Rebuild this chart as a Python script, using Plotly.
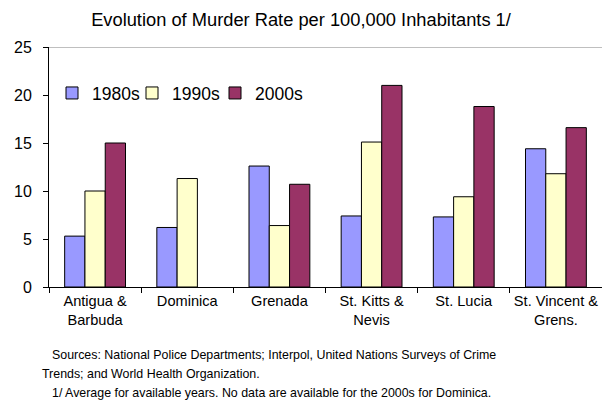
import plotly.graph_objects as go

countries = ["Antigua &<br>Barbuda", "Dominica", "Grenada", "St. Kitts &<br>Nevis", "St. Lucia", "St. Vincent &<br>Grens."]
rate_1980s = [5.3, 6.2, 12.6, 7.4, 7.3, 14.4]
rate_1990s = [10.0, 11.3, 6.4, 15.1, 9.4, 11.8]
rate_2000s = [15.0, None, 10.7, 21.0, 18.8, 16.6]

series = [("1980s", rate_1980s, "#9999FF"),
          ("1990s", rate_1990s, "#FFFFCC"),
          ("2000s", rate_2000s, "#993366")]

font = "Liberation Sans, Arial, sans-serif"
legend_names = ["legend", "legend2", "legend3"]
legend_x = [52, 132, 215]  # pixel position of each legend entry

fig = go.Figure()
for (name, vals, col), lg in zip(series, legend_names):
    fig.add_trace(go.Bar(x=countries, y=vals, name=name, legend=lg,
                         marker=dict(color=col, line=dict(color="black", width=1))))

fig.update_layout(
    width=602, height=402,
    margin=dict(l=49, r=0, t=47, b=115),
    plot_bgcolor="white", paper_bgcolor="white",
    font=dict(family=font, color="black"),
    barmode="group", bargap=0.34, bargroupgap=0,
    title=dict(text="Evolution of Murder Rate per 100,000 Inhabitants 1/",
               x=0.5, xanchor="center", y=1 - 20 / 402, yanchor="middle",
               font=dict(size=18.3, family=font, color="black")),
    showlegend=True,
)
for lg, xp in zip(legend_names, legend_x):
    fig.update_layout({lg: dict(orientation="h", x=(xp - 49) / 553, xanchor="left",
                                y=0.808, yanchor="middle", font=dict(size=17.5),
                                bgcolor="rgba(0,0,0,0)", itemwidth=30)})

fig.update_yaxes(range=[0, 25], dtick=5, showgrid=False, zeroline=False,
                 showline=True, linecolor="black", linewidth=1,
                 ticks="outside", ticklen=5, tickcolor="black",
                 ticklabelstandoff=8, tickfont=dict(size=16))
fig.update_xaxes(showgrid=False, showline=True, linecolor="black", linewidth=1,
                 ticks="outside", ticklen=5, tickcolor="black", tickson="boundaries",
                 tickfont=dict(size=14.6), tickangle=0)

# gray top border line
fig.add_shape(type="line", xref="paper", yref="y", x0=0, x1=1, y0=25, y1=25,
              line=dict(color="#808080", width=1))

notes = [
    ("Sources: National Police Departments; Interpol, United Nations Surveys of Crime", 50, 355),
    ("Trends; and World Health Organization.", 40, 374),
    ("1/ Average for available years. No data are available for the 2000s for Dominica.", 50, 393),
]
for txt, xp, yp in notes:
    fig.add_annotation(text=txt, xref="paper", yref="paper",
                       x=(xp - 49) / 553, y=0, xanchor="left", yanchor="middle",
                       yshift=-(yp - 287), showarrow=False,
                       font=dict(size=12.4, family=font, color="black"))

fig.write_html("out.html", config={"displayModeBar": False},
               post_script="document.body.style.margin='0';")
